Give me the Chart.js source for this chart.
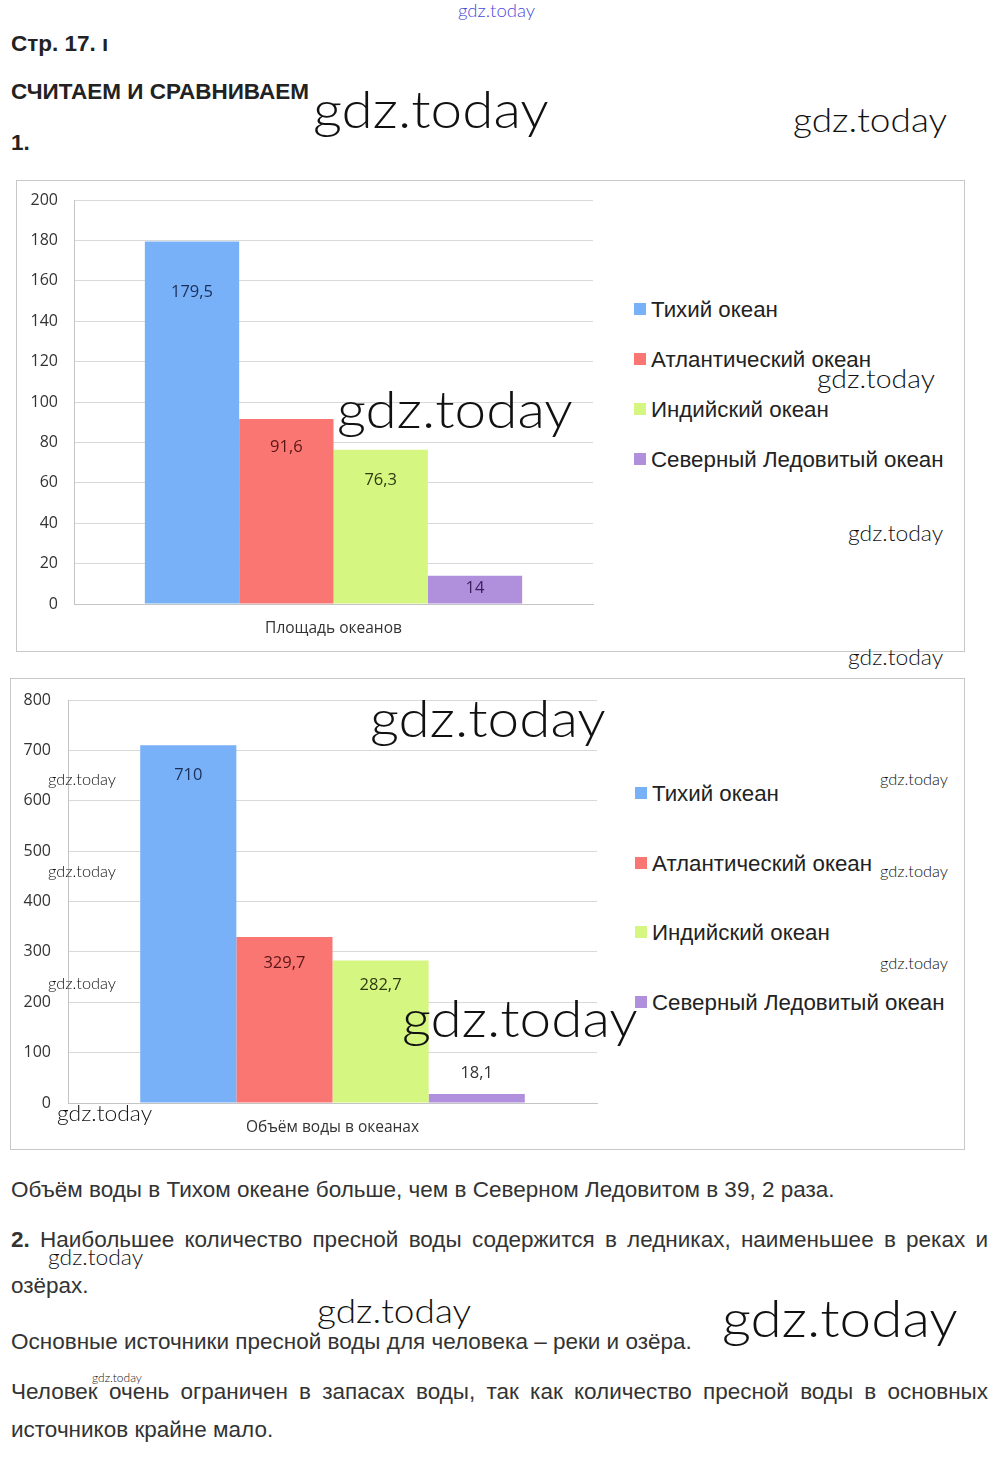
<!DOCTYPE html>
<html>
<head>
<meta charset="utf-8">
<script src="https://cdn.jsdelivr.net/npm/chart.js@4"></script>
<style>
  html,body{margin:0;padding:0;background:#fff;}
  body{width:1000px;height:1458px;position:relative;overflow:hidden;font-family:"Liberation Sans",Arial,sans-serif;color:#222;}
  .t{position:absolute;white-space:nowrap;line-height:1;}
  .h{font-weight:bold;font-size:22.5px;color:#222;}
  .p{font-size:22.5px;color:#333;}
  .j{text-align:justify;text-align-last:justify;white-space:normal;}
  .box{position:absolute;border:1px solid #c8c8c8;box-sizing:border-box;}
  canvas{position:absolute;}
  .leg{position:absolute;font-size:22.3px;color:#222;white-space:nowrap;line-height:1;}
  .leg span.sq{display:inline-block;width:12px;height:12px;margin-right:5px;vertical-align:2px;}
  .wm{position:absolute;font-family:Lato,"Open Sans",sans-serif;font-weight:300;color:#111;white-space:nowrap;line-height:1;transform:scaleX(1.09);transform-origin:0 50%;}
</style>
</head>
<body>
<div class="t h" style="left:11px;top:33px;">Стр. 17. ı</div>
<div class="t h" style="left:11px;top:81px;">СЧИТАЕМ И СРАВНИВАЕМ</div>
<div class="t h" style="left:11px;top:132px;">1.</div>

<div class="box" style="left:16px;top:180px;width:949px;height:472px;"></div>
<div class="box" style="left:10px;top:678px;width:955px;height:472px;"></div>

<canvas id="c1" width="600" height="470" style="left:16px;top:180px;width:600px;height:470px;"></canvas>
<canvas id="c2" width="600" height="470" style="left:10px;top:678px;width:600px;height:470px;"></canvas>

<div id="leg1"></div>
<div id="leg2"></div>

<div class="t p" style="left:11px;top:1179px;">Объём воды в Тихом океане больше, чем в Северном Ледовитом в 39, 2 раза.</div>
<div class="t p j" style="left:11px;top:1229px;width:977px;"><b>2.</b> Наибольшее количество пресной воды содержится в ледниках, наименьшее в реках и</div>
<div class="t p" style="left:11px;top:1275px;">озёрах.</div>
<div class="t p" style="left:11px;top:1331px;">Основные источники пресной воды для человека – реки и озёра.</div>
<div class="t p j" style="left:11px;top:1381px;width:977px;">Человек очень ограничен в запасах воды, так как количество пресной воды в основных</div>
<div class="t p" style="left:11px;top:1419px;">источников крайне мало.</div>

<div id="wms"></div>

<script>
// ---- data ----
const oceans = ['Тихий океан', 'Атлантический океан', 'Индийский океан', 'Северный Ледовитый океан'];
const areaCategory = ['Площадь океанов'];
const areaValues = [179.5, 91.6, 76.3, 14];
const volumeCategory = ['Объём воды в океанах'];
const volumeValues = [710, 329.7, 282.7, 18.1];
const areaTicks = [0, 20, 40, 60, 80, 100, 120, 140, 160, 180, 200];
const volumeTicks = [0, 100, 200, 300, 400, 500, 600, 700, 800];

// ---- styles ----
const barColors = ['#78b1f7', '#fa7672', '#d5f680', '#b08fdd'];
const labelColors = ['#1b2f5a', '#5a1616', '#2e3a10', '#3a1f5c'];

function fmt(v){ return String(v).replace('.', ','); }

const barLabelPlugin = {
  id: 'barLabels',
  afterDatasetsDraw(chart, args, opts) {
    const ctx = chart.ctx;
    ctx.save();
    ctx.font = '16.5px "Open Sans", "Noto Sans", sans-serif';
    ctx.textAlign = 'center';
    ctx.textBaseline = 'middle';
    chart.data.datasets.forEach((ds, i) => {
      const meta = chart.getDatasetMeta(i);
      meta.data.forEach((bar, j) => {
        ctx.fillStyle = opts.colors[i];
        ctx.fillText(fmt(ds.data[j]), bar.x, bar.y + opts.offsets[i]);
      });
    });
    ctx.restore();
  }
};

function makeChart(id, cats, values, ticks, pad, yW, xH, offsets, colors, tickPad) {
  const ctx = document.getElementById(id).getContext('2d');
  return new Chart(ctx, {
    type: 'bar',
    data: {
      labels: cats,
      datasets: oceans.map((name, i) => ({
        label: name,
        data: [values[i]],
        backgroundColor: barColors[i],
        borderWidth: 0
      }))
    },
    options: {
      responsive: false,
      animation: false,
      layout: { padding: pad },
      datasets: { bar: { categoryPercentage: 0.727, barPercentage: 1 } },
      plugins: {
        legend: { display: false },
        tooltip: { enabled: false },
        barLabels: { offsets: offsets, colors: colors }
      },
      scales: {
        x: {
          grid: { display: false, drawTicks: false },
          border: { color: '#c4c4c4' },
          ticks: { color: '#333', font: { family: '"Open Sans", "Noto Sans", sans-serif', size: 15.5 }, padding: 15 },
          afterFit(s){ s.height = xH; s.paddingLeft = 0; s.paddingRight = 0; }
        },
        y: {
          min: ticks[0], max: ticks[ticks.length - 1],
          afterBuildTicks(s){ s.ticks = ticks.map(v => ({ value: v })); },
          grid: { color: '#d9d9d9', drawTicks: false },
          border: { color: '#c4c4c4' },
          ticks: { color: '#333', font: { family: '"Open Sans", "Noto Sans", sans-serif', size: 16 }, padding: tickPad },
          afterFit(s){ s.width = yW; s.paddingTop = 0; s.paddingBottom = 0; }
        }
      }
    },
    plugins: [barLabelPlugin]
  });
}

makeChart('c1', areaCategory, areaValues, areaTicks,
  { left: 0, top: 20, right: 23, bottom: 0 }, 58, 46,
  [51, 28, 30, 13], labelColors, 16);
makeChart('c2', volumeCategory, volumeValues, volumeTicks,
  { left: 0, top: 22, right: 13, bottom: 0 }, 58, 45,
  [30, 26, 25, -21], ['#1b2f5a', '#5a1616', '#2e3a10', '#333333'], 17);

// ---- HTML legends ----
function legend(id, left, tops) {
  const el = document.getElementById(id);
  oceans.forEach((name, i) => {
    const d = document.createElement('div');
    d.className = 'leg';
    d.style.left = left + 'px';
    d.style.top = (tops[i] - 11) + 'px';
    d.innerHTML = '<span class="sq" style="background:' + barColors[i] + '"></span>' + name;
    el.appendChild(d);
  });
}
legend('leg1', 634, [310, 360, 410, 460]);
legend('leg2', 635, [794, 864, 933, 1003]);

// ---- watermarks ----
const wms = [
  [458, 12, 17, '#4a4ad8'], [313, 113, 52], [793, 122, 34],
  [337, 413, 52], [817, 381, 26], [848, 535, 21], [848, 659, 21],
  [370, 722, 52], [48, 781, 15], [48, 873, 15], [48, 985, 15],
  [880, 781, 15], [880, 873, 15], [880, 965, 15],
  [402, 1022, 52], [57, 1115, 21],
  [48, 1259, 21], [317, 1313, 34], [722, 1322, 52], [92, 1379, 11]
];
const wmEl = document.getElementById('wms');
wms.forEach(w => {
  const d = document.createElement('div');
  d.className = 'wm';
  d.textContent = 'gdz.today';
  d.style.left = w[0] + 'px';
  d.style.fontSize = w[2] + 'px';
  d.style.top = (w[1] - w[2] * 0.6) + 'px';
  if (w[3]) d.style.color = w[3];
  wmEl.appendChild(d);
});
</script>
</body>
</html>
